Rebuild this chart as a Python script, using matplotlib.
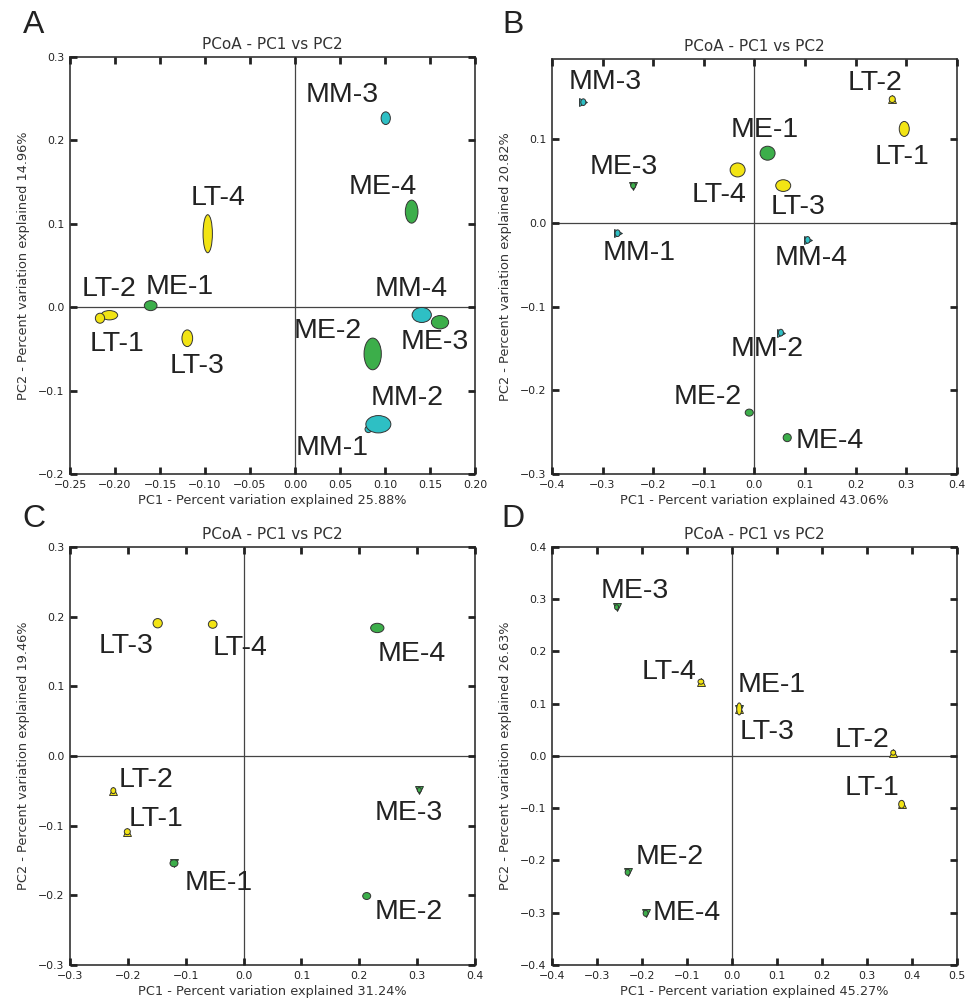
import matplotlib
matplotlib.use("Agg")
import matplotlib.pyplot as plt
from matplotlib.patches import Ellipse

colors = {"LT": "#f2e414", "ME": "#3cae4a", "MM": "#2ebfc4"}

# Panel A
a_names = ["MM-3", "ME-4", "LT-4", "LT-2", "LT-1", "ME-1", "LT-3", "MM-4", "ME-3", "ME-2", "MM-1", "MM-2"]
a_pc1 = [0.1008, 0.1296, -0.097, -0.2063, -0.2167, -0.1604, -0.1197, 0.1408, 0.1611, 0.0863, 0.0815, 0.0926]
a_pc2 = [0.2265, 0.1145, 0.088, -0.0097, -0.0133, 0.0018, -0.0373, -0.0094, -0.0181, -0.0561, -0.1464, -0.1404]
a_w = [0.0103, 0.0141, 0.0104, 0.0185, 0.0103, 0.0141, 0.0119, 0.0214, 0.0192, 0.0192, 0.0074, 0.0278]
a_h = [0.0152, 0.0276, 0.0456, 0.0112, 0.012, 0.012, 0.02, 0.018, 0.016, 0.038, 0.008, 0.0208]
a_mark = [""] * 12

# Panel B
b_names = ["MM-3", "LT-2", "LT-1", "ME-1", "LT-4", "LT-3", "ME-3", "MM-1", "MM-4", "MM-2", "ME-2", "ME-4"]
b_pc1 = [-0.338, 0.2723, 0.296, 0.026, -0.0332, 0.0569, -0.2394, -0.2703, 0.105, 0.0523, -0.0102, 0.0648]
b_pc2 = [0.1443, 0.1478, 0.1123, 0.0833, 0.0633, 0.0446, 0.0446, -0.0123, -0.0203, -0.1311, -0.2267, -0.2566]
b_w = [0.010, 0.012, 0.0198, 0.0296, 0.0296, 0.0296, 0.010, 0.010, 0.010, 0.010, 0.016, 0.016]
b_h = [0.008, 0.008, 0.0179, 0.0167, 0.0167, 0.014, 0.007, 0.008, 0.008, 0.008, 0.0084, 0.0096]
b_mark = [">", "^", "", "", "", "", "v", ">", ">", ">", "", ""]

# Panel C
c_names = ["LT-3", "LT-4", "ME-4", "LT-2", "LT-1", "ME-1", "ME-3", "ME-2"]
c_pc1 = [-0.1485, -0.0534, 0.2311, -0.2252, -0.201, -0.1203, 0.3037, 0.2128]
c_pc2 = [0.1905, 0.189, 0.1837, -0.0498, -0.1087, -0.154, -0.0488, -0.201]
c_w = [0.016, 0.015, 0.023, 0.0086, 0.0104, 0.0138, 0.007, 0.0138]
c_h = [0.0134, 0.0115, 0.0134, 0.0086, 0.0086, 0.010, 0.007, 0.010]
c_mark = ["", "", "", "^", "^", "v", "v", ""]

# Panel D
d_names = ["ME-3", "LT-4", "ME-1", "LT-3", "LT-2", "LT-1", "ME-2", "ME-4"]
d_pc1 = [-0.2563, -0.0689, 0.0162, 0.0162, 0.3585, 0.3771, -0.2318, -0.1918]
d_pc2 = [0.2846, 0.1422, 0.09, 0.09, 0.0063, -0.0925, -0.2226, -0.3011]
d_w = [0.009, 0.013, 0.009, 0.011, 0.011, 0.013, 0.011, 0.011]
d_h = [0.0096, 0.0096, 0.012, 0.023, 0.0096, 0.015, 0.0115, 0.0115]
d_mark = ["v", "^", "v", "^", "^", "^", "v", "v"]

# label offsets (pixels) for each sample
a_off = [(-44, 23), (-29, 25), (10, 36), (0, 26), (17, -26), (29, 19), (10, -28), (-11, 26), (-5, -20), (-45, 23), (-36, -19), (29, 26)]
b_off = [(22, 20), (-17, 16), (-2, -28), (-3, 23), (-19, -25), (15, -21), (-9, 19), (22, -20), (4, -18), (-14, -16), (-42, 16), (43, -3)]
c_off = [(-32, -23), (27, -24), (34, -26), (33, 11), (29, 13), (45, -20), (-11, -23), (42, -16)]
d_off = [(18, 16), (-32, 10), (32, 24), (28, -23), (-31, 13), (-30, 16), (42, 15), (41, 0)]

panels = [
    ("A", a_names, a_pc1, a_pc2, a_w, a_h, a_mark, a_off, "25.88%", "14.96%",
     (-0.25, 0.20), (-0.2, 0.3), [-0.25, -0.2, -0.15, -0.1, -0.05, 0, 0.05, 0.1, 0.15, 0.2], "%.2f",
     [-0.2, -0.1, 0, 0.1, 0.2, 0.3], [0.0722, 0.5284, 0.4175, 0.415]),
    ("B", b_names, b_pc1, b_pc2, b_w, b_h, b_mark, b_off, "43.06%", "20.82%",
     (-0.4, 0.4), (-0.3, 0.196), [-0.4, -0.3, -0.2, -0.1, 0, 0.1, 0.2, 0.3, 0.4], "%.1f",
     [-0.3, -0.2, -0.1, 0, 0.1], [0.569, 0.5284, 0.4175, 0.413]),
    ("C", c_names, c_pc1, c_pc2, c_w, c_h, c_mark, c_off, "31.24%", "19.46%",
     (-0.3, 0.4), (-0.3, 0.3), [-0.3, -0.2, -0.1, 0, 0.1, 0.2, 0.3, 0.4], "%.1f",
     [-0.3, -0.2, -0.1, 0, 0.1, 0.2, 0.3], [0.0722, 0.0398, 0.4175, 0.416]),
    ("D", d_names, d_pc1, d_pc2, d_w, d_h, d_mark, d_off, "45.27%", "26.63%",
     (-0.4, 0.5), (-0.4, 0.4), [-0.4, -0.3, -0.2, -0.1, 0, 0.1, 0.2, 0.3, 0.4, 0.5], "%.1f",
     [-0.4, -0.3, -0.2, -0.1, 0, 0.1, 0.2, 0.3, 0.4], [0.569, 0.0398, 0.4175, 0.416]),
]

letter_pos = {"A": (0.035, 0.975), "B": (0.529, 0.975), "C": (0.035, 0.484), "D": (0.529, 0.484)}

fig = plt.figure(figsize=(9.7, 10.05), dpi=100)

for (letter, names, pc1, pc2, ew, eh, marks, offs, xpct, ypct,
     xlim, ylim, xticks, fmt, yticks, rect) in panels:
    ax = fig.add_axes(rect)
    ax.axhline(0, color="#444444", lw=0.9, zorder=1)
    ax.axvline(0, color="#444444", lw=0.9, zorder=1)

    for i in range(len(names)):
        col = colors[names[i][:2]]
        if marks[i]:
            ax.plot(pc1[i], pc2[i], marker=marks[i], ms=6, color=col,
                    markeredgecolor="#222222", markeredgewidth=0.6, zorder=3)
        e = Ellipse((pc1[i], pc2[i]), ew[i], eh[i], facecolor=col,
                    edgecolor="#333333", lw=0.7, zorder=4)
        ax.add_patch(e)
        ax.annotate(names[i], (pc1[i], pc2[i]), xytext=offs[i], textcoords="offset pixels",
                    ha="center", va="center", fontsize=20.5, family="Liberation Sans",
                    color="#222222", zorder=5)

    ax.set_xlim(*xlim)
    ax.set_ylim(*ylim)
    ax.set_xticks(xticks)
    ax.set_xticklabels([(fmt % t).replace("-", "\u2212") for t in xticks])
    ax.set_yticks(yticks)
    ax.set_yticklabels([("%.1f" % t).replace("-", "\u2212") for t in yticks])
    ax.tick_params(direction="in", length=5, width=2, top=True, right=True,
                   labelsize=7.8, labelcolor="#222222", color="#222222", pad=4)
    for s in ax.spines.values():
        s.set_linewidth(1.1)
        s.set_color("#222222")

    ax.set_title("PCoA - PC1 vs PC2", fontsize=11, color="#333333", pad=6)
    ax.set_xlabel("PC1 - Percent variation explained " + xpct, fontsize=9.3, color="#333333", labelpad=3)
    ax.set_ylabel("PC2 - Percent variation explained " + ypct, fontsize=9.3, color="#333333", labelpad=6)

    fig.text(letter_pos[letter][0], letter_pos[letter][1], letter, fontsize=23,
             family="Liberation Sans", color="#222222", ha="center", va="center")

fig.savefig("out.png", dpi=100)
